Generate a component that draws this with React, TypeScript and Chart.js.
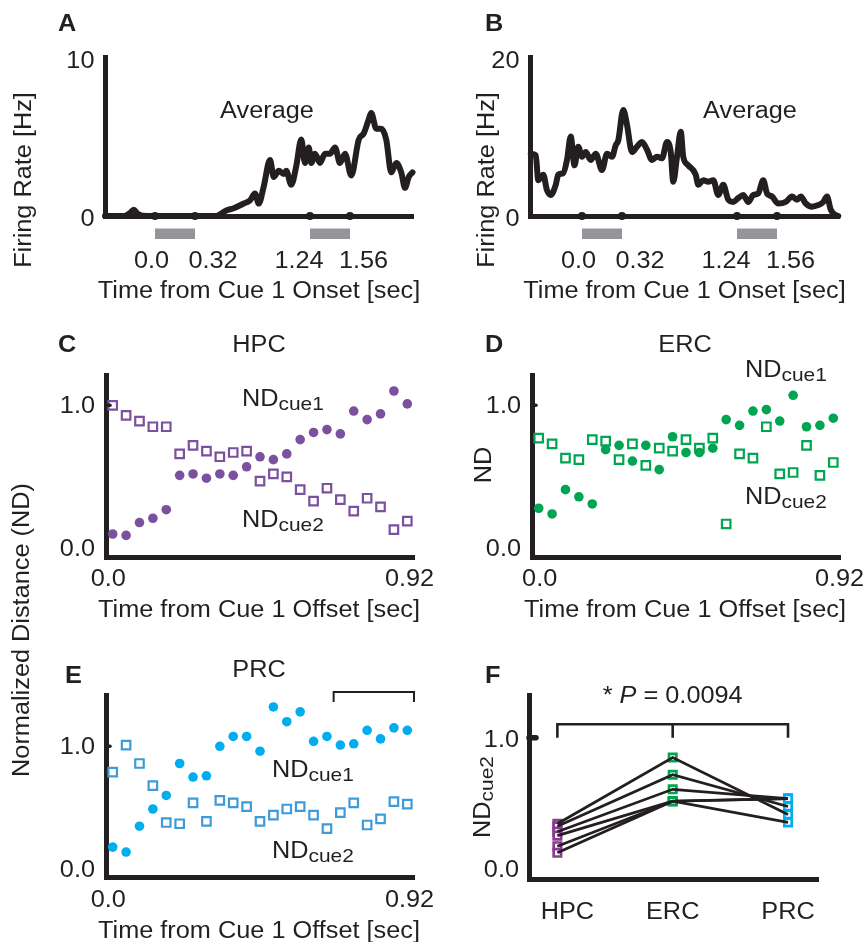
import { useEffect, useRef } from 'react';
import { Chart, registerables } from 'chart.js';

Chart.register(...registerables);

const W = 865;
const H = 942;
const INK = '#231F20';
const GRAY = '#939598';
const PURPLE = '#7B509F';
const F_PURPLE = '#8C3B94';
const GREEN = '#00A551';
const CYAN = '#00AEEF';
const LIGHT_BLUE = '#3E9BD9';
const FONT = '"Liberation Sans", Arial, Helvetica, sans-serif';
const SX = 1.1;
const AXW = 5;

// ---------- Panels A / B : firing rate ----------
const cueTicks = [0, 0.32, 1.24, 1.56];
const cueTickLabels = ['0.0', '0.32', '1.24', '1.56'];
const cueWindows = [[0, 0.32], [1.24, 1.56]];

const timeA = [-0.40, -0.25, -0.20, -0.17, -0.14, -0.06, 0.00, 0.15, 0.30, 0.49, 0.57, 0.63, 0.71, 0.76, 0.80, 0.83, 0.87, 0.92, 0.95, 0.99, 1.03, 1.05, 1.09, 1.13, 1.17, 1.20, 1.23, 1.25, 1.28, 1.32, 1.36, 1.40, 1.44, 1.48, 1.52, 1.57, 1.63, 1.67, 1.71, 1.73, 1.77, 1.81, 1.85, 1.89, 1.93, 1.97, 2.00, 2.03, 2.06];
const rateA = [0.0, 0.0, 0.2, 0.4, 0.15, 0.0, 0.0, 0.0, 0.0, 0.0, 0.35, 0.5, 0.8, 1.0, 1.45, 0.8, 1.9, 3.6, 2.5, 2.9, 2.7, 2.9, 2.0, 3.2, 4.9, 3.4, 4.4, 3.4, 4.0, 3.4, 4.0, 4.0, 4.4, 3.4, 4.0, 2.6, 4.9, 5.3, 6.2, 6.6, 5.6, 5.6, 4.9, 2.8, 3.4, 2.8, 1.8, 2.5, 2.8];

const timeB = [-0.41, -0.37, -0.35, -0.31, -0.28, -0.25, -0.21, -0.19, -0.15, -0.12, -0.09, -0.06, -0.03, 0.00, 0.03, 0.07, 0.11, 0.16, 0.20, 0.24, 0.27, 0.29, 0.33, 0.36, 0.40, 0.44, 0.48, 0.52, 0.56, 0.60, 0.64, 0.68, 0.71, 0.73, 0.76, 0.79, 0.81, 0.85, 0.91, 0.93, 0.97, 1.01, 1.05, 1.09, 1.13, 1.17, 1.21, 1.25, 1.29, 1.33, 1.37, 1.41, 1.45, 1.48, 1.52, 1.57, 1.63, 1.68, 1.72, 1.75, 1.79, 1.84, 1.89, 1.93, 1.96, 1.99, 2.03, 2.05];
const rateB = [8.0, 7.8, 4.6, 5.3, 3.3, 2.7, 4.0, 5.3, 5.5, 7.2, 10.2, 6.5, 8.9, 7.6, 8.2, 7.2, 8.0, 5.9, 8.0, 7.6, 9.1, 9.7, 13.6, 11.7, 8.2, 8.9, 9.5, 8.5, 7.2, 7.6, 7.4, 9.5, 8.2, 4.4, 7.6, 10.8, 7.6, 6.5, 5.3, 4.0, 4.6, 4.4, 4.6, 2.7, 4.0, 2.1, 1.8, 2.3, 2.7, 1.8, 2.7, 2.9, 4.6, 2.9, 2.5, 1.6, 1.8, 2.5, 2.1, 2.5, 1.6, 1.2, 1.4, 1.8, 2.5, 0.8, 0.1, 0.0];

// ---------- Panels C / D / E : normalized distance ----------
const binTimes = [0.02, 0.06, 0.10, 0.14, 0.18, 0.22, 0.26, 0.30, 0.34, 0.38, 0.42, 0.46, 0.50, 0.54, 0.58, 0.62, 0.66, 0.70, 0.74, 0.78, 0.82, 0.86, 0.90];
const hpcCue1 = [0.10, 0.09, 0.18, 0.21, 0.27, 0.51, 0.52, 0.49, 0.52, 0.51, 0.57, 0.64, 0.62, 0.66, 0.76, 0.81, 0.83, 0.80, 0.96, 0.90, 0.94, 1.10, 1.01];
const hpcCue2 = [1.00, 0.93, 0.89, 0.85, 0.85, 0.66, 0.72, 0.68, 0.64, 0.67, 0.68, 0.47, 0.52, 0.50, 0.41, 0.33, 0.42, 0.34, 0.26, 0.35, 0.29, 0.13, 0.19];
const ercCue1 = [0.28, 0.24, 0.41, 0.36, 0.31, 0.69, 0.72, 0.61, 0.72, 0.55, 0.78, 0.67, 0.67, 0.70, 0.90, 0.86, 0.96, 0.97, 0.89, 1.07, 0.85, 0.86, 0.91];
const ercCue2 = [0.77, 0.73, 0.63, 0.62, 0.76, 0.75, 0.62, 0.73, 0.58, 0.70, 0.68, 0.76, 0.70, 0.77, 0.17, 0.66, 0.63, 0.85, 0.52, 0.53, 0.72, 0.51, 0.60];
const prcCue1 = [0.18, 0.14, 0.35, 0.49, 0.60, 0.86, 0.75, 0.76, 1.00, 1.08, 1.08, 0.96, 1.32, 1.20, 1.28, 1.04, 1.08, 1.01, 1.02, 1.13, 1.06, 1.15, 1.13];
const prcCue2 = [0.79, 1.01, 0.86, 0.68, 0.38, 0.37, 0.54, 0.39, 0.56, 0.54, 0.51, 0.39, 0.44, 0.49, 0.51, 0.44, 0.33, 0.46, 0.54, 0.36, 0.41, 0.55, 0.53];
const prcWindow = [0.68, 0.92];

// ---------- Panel F : ND cue2 per region ----------
const regions = ['HPC', 'ERC', 'PRC'];
const fHPC = [0.35, 0.33, 0.29, 0.26, 0.18, 0.13];
const fERC = [0.85, 0.72, 0.61, 0.52, 0.52, 0.52];
const fPRC = [0.42, 0.48, 0.54, 0.54, 0.54, 0.36];
const pText = '0.0094';

// ---------- text helpers ----------
type Run = { s: string; size?: number; bold?: boolean; italic?: boolean; dy?: number };
type Align = 'left' | 'center' | 'right';

function fontOf(r: Run) {
  return `${r.italic ? 'italic ' : ''}${r.bold ? 'bold ' : ''}${r.size ?? 23}px ${FONT}`;
}

function drawRuns(ctx: CanvasRenderingContext2D, runs: Run[], x: number, y: number, align: Align = 'left', rot = 0) {
  ctx.save();
  ctx.translate(x, y);
  if (rot) ctx.rotate(rot);
  const widths = runs.map((r) => {
    ctx.font = fontOf(r);
    return ctx.measureText(r.s).width * SX;
  });
  const total = widths.reduce((a, b) => a + b, 0);
  let cx = align === 'center' ? -total / 2 : align === 'right' ? -total : 0;
  ctx.fillStyle = INK;
  ctx.textAlign = 'left';
  ctx.textBaseline = 'alphabetic';
  runs.forEach((r, i) => {
    ctx.save();
    ctx.font = fontOf(r);
    ctx.translate(cx, r.dy ?? 0);
    ctx.scale(SX, 1);
    ctx.fillText(r.s, 0, 0);
    ctx.restore();
    cx += widths[i];
  });
  ctx.restore();
}

function drawText(ctx: CanvasRenderingContext2D, s: string, x: number, y: number, o: { size?: number; bold?: boolean; italic?: boolean; align?: Align; rot?: number } = {}) {
  drawRuns(ctx, [{ s, size: o.size, bold: o.bold, italic: o.italic }], x, y, o.align ?? 'left', o.rot ?? 0);
}

function ndRuns(sub: string): Run[] {
  return [{ s: 'ND' }, { s: sub, size: 19, dy: 4 }];
}

function nub(ctx: CanvasRenderingContext2D, x: number, y: number, len: number, w: number) {
  ctx.save();
  ctx.strokeStyle = INK;
  ctx.lineWidth = w;
  ctx.lineCap = 'round';
  ctx.beginPath();
  ctx.moveTo(x, y);
  ctx.lineTo(x + len, y);
  ctx.stroke();
  ctx.restore();
}

// ---------- chart options ----------
type Area = { l: number; t: number; r: number; b: number };

function axis(min: number, max: number, horizontal: boolean) {
  return {
    type: 'linear',
    min,
    max,
    grid: { display: false, drawTicks: false },
    ticks: { display: false },
    border: { display: true, color: INK, width: AXW },
    afterFit: (s: any) => {
      if (horizontal) s.height = 0;
      else s.width = 0;
    },
  };
}

function baseOptions(area: Area, xr: number[], yr: number[]): any {
  return {
    animation: false,
    responsive: false,
    maintainAspectRatio: false,
    devicePixelRatio: 1,
    events: [],
    layout: { autoPadding: false, padding: { left: area.l, top: area.t, right: W - area.r, bottom: H - area.b } },
    plugins: { legend: { display: false }, tooltip: { enabled: false } },
    scales: { x: axis(xr[0], xr[1], true), y: axis(yr[0], yr[1], false) },
  };
}

const CUE_DX = [-3.5, 18, -11, 13.5];

function firingConfig(p: { area: Area; xr: number[]; yr: number[]; time: number[]; rate: number[]; yTop: number; letter: string; letterX: number; avgX: number; ylabX: number }): any {
  const plugin = {
    id: 'firing' + p.letter,
    afterDraw(chart: any) {
      const ctx = chart.ctx as CanvasRenderingContext2D;
      const x = chart.scales.x;
      const y = chart.scales.y;
      ctx.save();
      ctx.fillStyle = GRAY;
      for (const [a, b] of cueWindows) {
        const xa = x.getPixelForValue(a);
        const xb = x.getPixelForValue(b);
        ctx.fillRect(xa, p.area.b + 12.5, xb - xa, 10.5);
      }
      ctx.restore();
      cueTicks.forEach((v, i) => drawText(ctx, cueTickLabels[i], x.getPixelForValue(v) + CUE_DX[i], p.area.b + 52, { align: 'center' }));
      drawText(ctx, 'Time from Cue 1 Onset [sec]', (p.area.l + p.area.r) / 2, p.area.b + 81.7, { align: 'center' });
      drawText(ctx, String(p.yTop), p.area.l - 10.5, y.getPixelForValue(p.yTop) + 8, { align: 'right' });
      drawText(ctx, '0', p.area.l - 10.5, y.getPixelForValue(0) + 9.5, { align: 'right' });
      drawText(ctx, 'Firing Rate [Hz]', p.ylabX, 180, { align: 'center', rot: -Math.PI / 2 });
      drawText(ctx, 'Average', p.avgX, 118, { align: 'center' });
      drawText(ctx, p.letter, p.letterX, 31, { bold: true });
    },
  };
  return {
    type: 'scatter',
    data: {
      datasets: [
        {
          data: p.time.map((t, i) => ({ x: t, y: p.rate[i] })),
          showLine: true,
          borderColor: INK,
          borderWidth: 6,
          pointRadius: 0,
          cubicInterpolationMode: 'monotone',
          borderJoinStyle: 'round',
          borderCapStyle: 'round',
          clip: false,
          order: 1,
        },
        {
          data: cueTicks.map((v) => ({ x: v, y: 0 })),
          pointRadius: 4,
          pointBackgroundColor: INK,
          pointBorderWidth: 0,
          clip: false,
          order: 0,
        },
      ],
    },
    options: baseOptions(p.area, p.xr, p.yr),
    plugins: [plugin],
  };
}

function ndConfig(p: {
  area: Area; yr: number[]; cue1: number[]; cue2: number[]; dotColor: string; sqColor: string;
  title: string; titleY: number; letter: string; letterX: number; letterY: number;
  nd1: number[]; nd2: number[]; x0dx: number; x92dx: number; tickDy: number; xTitleDy: number;
  extra?: (chart: any, ctx: CanvasRenderingContext2D) => void;
}): any {
  const plugin = {
    id: 'nd' + p.letter,
    afterDraw(chart: any) {
      const ctx = chart.ctx as CanvasRenderingContext2D;
      const x = chart.scales.x;
      const y = chart.scales.y;
      nub(ctx, p.area.l, y.getPixelForValue(1), 4, 3.5);
      drawText(ctx, '1.0', p.area.l - 11, y.getPixelForValue(1) + 7.7, { align: 'right' });
      drawText(ctx, '0.0', p.area.l - 11, y.getPixelForValue(0) + 7.7, { align: 'right' });
      drawText(ctx, '0.0', x.getPixelForValue(0) + p.x0dx, p.area.b + p.tickDy, { align: 'center' });
      drawText(ctx, '0.92', x.getPixelForValue(0.92) + p.x92dx, p.area.b + p.tickDy, { align: 'center' });
      drawText(ctx, 'Time from Cue 1 Offset [sec]', (p.area.l + p.area.r) / 2 - 1, p.area.b + p.xTitleDy, { align: 'center' });
      drawText(ctx, p.title, (p.area.l + p.area.r) / 2 - 1, p.titleY, { align: 'center' });
      drawText(ctx, p.letter, p.letterX, p.letterY, { bold: true });
      drawRuns(ctx, ndRuns('cue1'), p.nd1[0], p.nd1[1]);
      drawRuns(ctx, ndRuns('cue2'), p.nd2[0], p.nd2[1]);
      if (p.extra) p.extra(chart, ctx);
    },
  };
  return {
    type: 'scatter',
    data: {
      datasets: [
        {
          data: binTimes.map((t, i) => ({ x: t, y: p.cue1[i] })),
          pointStyle: 'circle',
          pointRadius: 4.8,
          pointBackgroundColor: p.dotColor,
          pointBorderWidth: 0,
          clip: false,
          order: 0,
        },
        {
          data: binTimes.map((t, i) => ({ x: t, y: p.cue2[i] })),
          pointStyle: 'rect',
          pointRadius: 6,
          pointBackgroundColor: 'rgba(255,255,255,0)',
          pointBorderColor: p.sqColor,
          pointBorderWidth: 2.2,
          clip: false,
          order: 1,
        },
      ],
    },
    options: baseOptions(p.area, [0, 0.92], p.yr),
    plugins: [plugin],
  };
}

function fConfig(): any {
  const area: Area = { l: 529, t: 695, r: 818, b: 879 };
  const colors = [F_PURPLE, GREEN, CYAN];
  const cols = [fHPC, fERC, fPRC];
  const plugin = {
    id: 'panelF',
    afterDraw(chart: any) {
      const ctx = chart.ctx as CanvasRenderingContext2D;
      const x = chart.scales.x;
      const y = chart.scales.y;
      nub(ctx, area.l, y.getPixelForValue(1), 7, 5.5);
      drawText(ctx, '1.0', area.l - 10, y.getPixelForValue(1) + 9, { align: 'right' });
      drawText(ctx, '0.0', area.l - 10, y.getPixelForValue(0) + 7.3, { align: 'right' });
      const lblDx = [10, 0, 0];
      regions.forEach((r, i) => drawText(ctx, r, x.getPixelForValue(i) + lblDx[i], area.b + 40.3, { align: 'center' }));
      // significance bracket
      const yb = y.getPixelForValue(1);
      const yt = yb - 13.5;
      ctx.save();
      ctx.strokeStyle = INK;
      ctx.lineWidth = 2.6;
      ctx.beginPath();
      ctx.moveTo(x.getPixelForValue(0), yb);
      ctx.lineTo(x.getPixelForValue(0), yt);
      ctx.lineTo(x.getPixelForValue(2), yt);
      ctx.lineTo(x.getPixelForValue(2), yb);
      ctx.moveTo(x.getPixelForValue(1), yt);
      ctx.lineTo(x.getPixelForValue(1), yb);
      ctx.stroke();
      ctx.restore();
      drawRuns(ctx, [{ s: '* ' }, { s: 'P', italic: true }, { s: ' = ' + pText }], x.getPixelForValue(1), 703.3, 'center');
      drawRuns(ctx, [{ s: 'ND' }, { s: 'cue2', size: 19, dy: 3 }], 490, 797, 'center', -Math.PI / 2);
      drawText(ctx, 'F', 485, 683, { bold: true });
    },
  };
  const lines = fHPC.map((_, i) => ({
    data: [
      { x: 0, y: fHPC[i] },
      { x: 1, y: fERC[i] },
      { x: 2, y: fPRC[i] },
    ],
    showLine: true,
    borderColor: INK,
    borderWidth: 2.7,
    pointRadius: 0,
    clip: false,
    order: 0,
  }));
  const markers = cols.map((vals, r) => ({
    data: vals.map((v) => ({ x: r, y: v })),
    pointStyle: 'rect',
    pointRadius: 5.2,
    pointBackgroundColor: '#ffffff',
    pointBorderColor: colors[r],
    pointBorderWidth: 2.7,
    clip: false,
    order: 1,
  }));
  return {
    type: 'scatter',
    data: { datasets: [...markers, ...lines] },
    options: baseOptions(area, [-0.246, 2.26], [-0.068, 1.323]),
    plugins: [plugin],
  };
}

const builders: (() => any)[] = [
  () => firingConfig({ area: { l: 105, t: 57, r: 413, b: 216 }, xr: [-0.4, 2.064], yr: [0, 10.2], time: timeA, rate: rateA, yTop: 10, letter: 'A', letterX: 58, avgX: 267, ylabX: 30.5 }),
  () => firingConfig({ area: { l: 530, t: 57, r: 839, b: 216 }, xr: [-0.416, 2.056], yr: [0, 20.4], time: timeB, rate: rateB, yTop: 20, letter: 'B', letterX: 485, avgX: 750, ylabX: 493.5 }),
  () =>
    ndConfig({
      area: { l: 106, t: 375, r: 414, b: 557 }, yr: [-0.061, 1.212], cue1: hpcCue1, cue2: hpcCue2, dotColor: PURPLE, sqColor: PURPLE,
      title: 'HPC', titleY: 352, letter: 'C', letterX: 58, letterY: 352, nd1: [242, 406], nd2: [242, 527],
      x0dx: 2.3, x92dx: -4.5, tickDy: 29, xTitleDy: 59.7,
      extra: (_chart, ctx) => drawText(ctx, 'Normalized Distance (ND)', 29, 630, { align: 'center', rot: -Math.PI / 2 }),
    }),
  () =>
    ndConfig({
      area: { l: 532, t: 375, r: 840, b: 557 }, yr: [-0.061, 1.212], cue1: ercCue1, cue2: ercCue2, dotColor: GREEN, sqColor: GREEN,
      title: 'ERC', titleY: 352, letter: 'D', letterX: 485, letterY: 352, nd1: [745, 377], nd2: [745, 504],
      x0dx: 7.7, x92dx: -0.5, tickDy: 29, xTitleDy: 59.7,
      extra: (_chart, ctx) => drawText(ctx, 'ND', 491, 465, { align: 'center', rot: -Math.PI / 2 }),
    }),
  () =>
    ndConfig({
      area: { l: 106, t: 695, r: 414, b: 877 }, yr: [-0.063, 1.417], cue1: prcCue1, cue2: prcCue2, dotColor: CYAN, sqColor: LIGHT_BLUE,
      title: 'PRC', titleY: 677, letter: 'E', letterX: 65, letterY: 683, nd1: [272, 777], nd2: [272, 858],
      x0dx: 2.3, x92dx: -4.5, tickDy: 29.7, xTitleDy: 61,
      extra: (chart, ctx) => {
        const x = chart.scales.x;
        const top = chart.chartArea.top - 3;
        ctx.save();
        ctx.strokeStyle = INK;
        ctx.lineWidth = 2;
        ctx.beginPath();
        ctx.moveTo(x.getPixelForValue(prcWindow[0]), top + 10);
        ctx.lineTo(x.getPixelForValue(prcWindow[0]), top);
        ctx.lineTo(x.getPixelForValue(prcWindow[1]), top);
        ctx.lineTo(x.getPixelForValue(prcWindow[1]), top + 10);
        ctx.stroke();
        ctx.restore();
      },
    }),
  fConfig,
];

export default function App() {
  const refs = useRef<(HTMLCanvasElement | null)[]>([]);
  useEffect(() => {
    const charts = builders.map((b, i) => new Chart(refs.current[i] as HTMLCanvasElement, b()));
    return () => charts.forEach((c) => c.destroy());
  }, []);
  return (
    <div style={{ position: 'absolute', left: 0, top: 0, width: W, height: H, background: '#ffffff', overflow: 'hidden' }}>
      {builders.map((_, i) => (
        <canvas
          key={i}
          ref={(el) => {
            refs.current[i] = el;
          }}
          width={W}
          height={H}
          style={{ position: 'absolute', left: 0, top: 0, width: W, height: H }}
        />
      ))}
    </div>
  );
}
